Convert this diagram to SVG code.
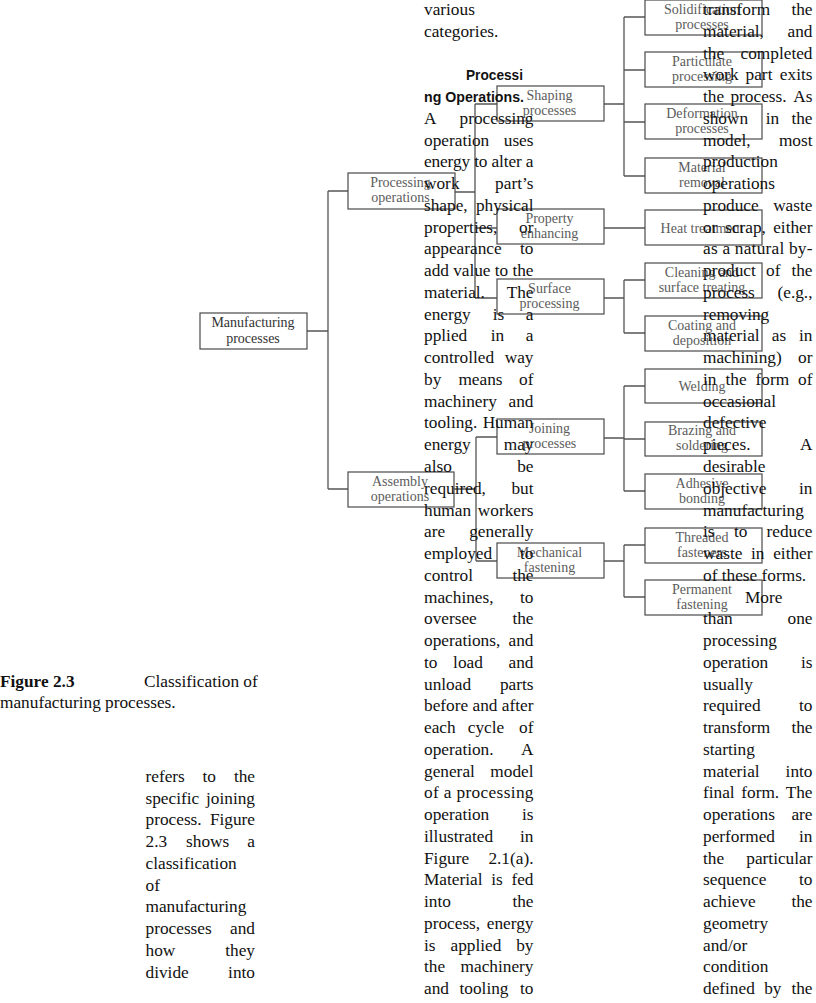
<svg xmlns="http://www.w3.org/2000/svg" width="816" height="1003" viewBox="0 0 816 1003">
<style>
.bg{fill:#fff}
.ln{fill:none;stroke:#555;stroke-width:1.3}
.box{fill:none;stroke:#4a4a4a;stroke-width:1.2}
.bt{font-family:"Liberation Serif",serif;font-size:14px;fill:#5c5c5c;text-anchor:middle}
.bt0{fill:#333}
.tx{font-family:"Liberation Serif",serif;font-size:17.3px;fill:#111}
.hd{font-family:"Liberation Sans",sans-serif;font-size:15px;font-weight:bold;fill:#111}
.e{text-anchor:end}
.m{text-anchor:middle}
</style>
<rect class="bg" x="0" y="0" width="816" height="1003"/>

<g id="connectors" class="ln">
<path d="M307,331H328M328,191V489M328,191H348M328,489H348"/>
<path d="M455,192H475M475,104V298M475,104H497M475,228H497M475,298H497"/>
<path d="M454,489H476M476,437V561M476,437H497M476,561H497"/>
<path d="M604,104H624M624,17V176M624,17H645M624,70H645M624,122H645M624,176H645"/>
<path d="M604,228H645"/>
<path d="M604,298H624M624,280V333M624,280H645M624,333H645"/>
<path d="M604,438H624M624,386V491M624,386H645M624,439H645M624,491H645"/>
<path d="M604,561H624M624,545V597M624,545H645M624,597H645"/>
</g>

<g id="n-manufacturing"><rect class="box" x="200" y="313" width="107" height="36"/><text class="bt bt0" x="253" y="327">Manufacturing</text><text class="bt bt0" x="253" y="342.5">processes</text></g>
<g id="n-processing"><rect class="box" x="348" y="173" width="107" height="36"/><text class="bt" x="400.5" y="187">Processing</text><text class="bt" x="400.5" y="202">operations</text></g>
<g id="n-assembly"><rect class="box" x="348" y="472" width="106" height="35"/><text class="bt" x="400" y="485.5">Assembly</text><text class="bt" x="400" y="500.5">operations</text></g>
<g id="n-shaping"><rect class="box" x="497" y="86" width="107" height="35"/><text class="bt" x="549.5" y="100">Shaping</text><text class="bt" x="549.5" y="115">processes</text></g>
<g id="n-property"><rect class="box" x="497" y="209" width="107" height="35"/><text class="bt" x="549.5" y="223">Property</text><text class="bt" x="549.5" y="238">enhancing</text></g>
<g id="n-surface"><rect class="box" x="497" y="279" width="107" height="35"/><text class="bt" x="549.5" y="293">Surface</text><text class="bt" x="549.5" y="308">processing</text></g>
<g id="n-joining"><rect class="box" x="497" y="419" width="107" height="35"/><text class="bt" x="549.5" y="433">Joining</text><text class="bt" x="549.5" y="448">processes</text></g>
<g id="n-mechanical"><rect class="box" x="497" y="543" width="107" height="35"/><text class="bt" x="549.5" y="557">Mechanical</text><text class="bt" x="549.5" y="572">fastening</text></g>
<g id="n-solidification"><rect class="box" x="645" y="0" width="117" height="35"/><text class="bt" x="702" y="13.5">Solidification</text><text class="bt" x="702" y="28.5">processes</text></g>
<g id="n-particulate"><rect class="box" x="645" y="52" width="117" height="35"/><text class="bt" x="702" y="65.5">Particulate</text><text class="bt" x="702" y="80.5">processing</text></g>
<g id="n-deformation"><rect class="box" x="645" y="104" width="117" height="35"/><text class="bt" x="702" y="117.5">Deformation</text><text class="bt" x="702" y="132.5">processes</text></g>
<g id="n-removal"><rect class="box" x="645" y="158" width="117" height="35"/><text class="bt" x="702" y="171.5">Material</text><text class="bt" x="702" y="186.5">removal</text></g>
<g id="n-heat"><rect class="box" x="645" y="210" width="117" height="35"/><text class="bt" x="702" y="232.5">Heat treatment</text></g>
<g id="n-cleaning"><rect class="box" x="645" y="263" width="117" height="35"/><text class="bt" x="702" y="276.5">Cleaning and</text><text class="bt" x="702" y="291.5">surface treating</text></g>
<g id="n-coating"><rect class="box" x="645" y="316" width="117" height="35"/><text class="bt" x="702" y="329.5">Coating and</text><text class="bt" x="702" y="344.5">deposition</text></g>
<g id="n-welding"><rect class="box" x="645" y="369" width="117" height="34"/><text class="bt" x="702" y="391">Welding</text></g>
<g id="n-brazing"><rect class="box" x="645" y="422" width="117" height="34"/><text class="bt" x="702" y="435">Brazing and</text><text class="bt" x="702" y="450">soldering</text></g>
<g id="n-adhesive"><rect class="box" x="645" y="474" width="117" height="35"/><text class="bt" x="702" y="487.5">Adhesive</text><text class="bt" x="702" y="502.5">bonding</text></g>
<g id="n-threaded"><rect class="box" x="645" y="528" width="117" height="35"/><text class="bt" x="702" y="541.5">Threaded</text><text class="bt" x="702" y="556.5">fasteners</text></g>
<g id="n-permanent"><rect class="box" x="645" y="580" width="117" height="35"/><text class="bt" x="702" y="593.5">Permanent</text><text class="bt" x="702" y="608.5">fastening</text></g>

<g id="caption" class="tx">
<text x="0" y="686.5" font-weight="bold">Figure 2.3</text>
<text x="144" y="686.5">Classification of</text>
<text x="0" y="708">manufacturing processes.</text>
</g>

<g id="col-left" class="tx">
<text y="781.7"><tspan x="145.5">refers</tspan><tspan x="209.3" class="m">to</tspan><tspan x="255" class="e">the</tspan></text>
<text y="803.5"><tspan x="145.5">specific</tspan><tspan x="255" class="e">joining</tspan></text>
<text y="825.2"><tspan x="145.5">process.</tspan><tspan x="255" class="e">Figure</tspan></text>
<text y="847"><tspan x="145.5">2.3</tspan><tspan x="207.7" class="m">shows</tspan><tspan x="255" class="e">a</tspan></text>
<text x="145.5" y="868.7">classification</text>
<text x="145.5" y="890.5">of</text>
<text x="145.5" y="912.3">manufacturing</text>
<text y="934"><tspan x="145.5">processes</tspan><tspan x="255" class="e">and</tspan></text>
<text y="955.8"><tspan x="145.5">how</tspan><tspan x="255" class="e">they</tspan></text>
<text y="977.5"><tspan x="145.5">divide</tspan><tspan x="255" class="e">into</tspan></text>
</g>

<g id="col-middle" class="tx">
<text x="424" y="15">various</text>
<text x="424" y="36.8">categories.</text>
<text class="hd" x="466" y="80.3" textLength="57" lengthAdjust="spacingAndGlyphs">Processi</text>
<text class="hd" x="424" y="102" textLength="100" lengthAdjust="spacingAndGlyphs">ng Operations.</text>
<text y="123.8"><tspan x="424">A</tspan><tspan x="533.5" class="e">processing</tspan></text>
<text y="145.6"><tspan x="424">operation</tspan><tspan x="533.5" class="e">uses</tspan></text>
<text x="424" y="167.3" textLength="109.5" lengthAdjust="spacing">energy to alter a</text>
<text y="189.1"><tspan x="424">work</tspan><tspan x="533.5" class="e">part’s</tspan></text>
<text y="210.8"><tspan x="424">shape,</tspan><tspan x="533.5" class="e">physical</tspan></text>
<text y="232.6"><tspan x="424">properties,</tspan><tspan x="533.5" class="e">or</tspan></text>
<text y="254.4"><tspan x="424">appearance</tspan><tspan x="533.5" class="e">to</tspan></text>
<text x="424" y="276.1" textLength="109.5" lengthAdjust="spacing">add value to the</text>
<text y="297.9"><tspan x="424">material.</tspan><tspan x="533.5" class="e">The</tspan></text>
<text y="319.6"><tspan x="424">energy</tspan><tspan x="498.5" class="m">is</tspan><tspan x="533.5" class="e">a</tspan></text>
<text y="341.4"><tspan x="424">pplied</tspan><tspan x="497.5" class="m">in</tspan><tspan x="533.5" class="e">a</tspan></text>
<text y="363.2"><tspan x="424">controlled</tspan><tspan x="533.5" class="e">way</tspan></text>
<text y="384.9"><tspan x="424">by</tspan><tspan x="480.5" class="m">means</tspan><tspan x="533.5" class="e">of</tspan></text>
<text y="406.7"><tspan x="424">machinery</tspan><tspan x="533.5" class="e">and</tspan></text>
<text y="428.4"><tspan x="424">tooling.</tspan><tspan x="533.5" class="e">Human</tspan></text>
<text y="450.2"><tspan x="424">energy</tspan><tspan x="533.5" class="e">may</tspan></text>
<text y="472"><tspan x="424">also</tspan><tspan x="533.5" class="e">be</tspan></text>
<text y="493.7"><tspan x="424">required,</tspan><tspan x="533.5" class="e">but</tspan></text>
<text y="515.5"><tspan x="424">human</tspan><tspan x="533.5" class="e">workers</tspan></text>
<text y="537.2"><tspan x="424">are</tspan><tspan x="533.5" class="e">generally</tspan></text>
<text y="559"><tspan x="424">employed</tspan><tspan x="533.5" class="e">to</tspan></text>
<text y="580.8"><tspan x="424">control</tspan><tspan x="533.5" class="e">the</tspan></text>
<text y="602.5"><tspan x="424">machines,</tspan><tspan x="533.5" class="e">to</tspan></text>
<text y="624.3"><tspan x="424">oversee</tspan><tspan x="533.5" class="e">the</tspan></text>
<text y="646"><tspan x="424">operations,</tspan><tspan x="533.5" class="e">and</tspan></text>
<text y="667.8"><tspan x="424">to</tspan><tspan x="468" class="m">load</tspan><tspan x="533.5" class="e">and</tspan></text>
<text y="689.6"><tspan x="424">unload</tspan><tspan x="533.5" class="e">parts</tspan></text>
<text x="424" y="711.3" textLength="109.5" lengthAdjust="spacing">before and after</text>
<text y="733.1"><tspan x="424">each</tspan><tspan x="486" class="m">cycle</tspan><tspan x="533.5" class="e">of</tspan></text>
<text y="754.8"><tspan x="424">operation.</tspan><tspan x="533.5" class="e">A</tspan></text>
<text y="776.6"><tspan x="424">general</tspan><tspan x="533.5" class="e">model</tspan></text>
<text x="424" y="798.4" textLength="109.5" lengthAdjust="spacing">of a processing</text>
<text y="820.1"><tspan x="424">operation</tspan><tspan x="533.5" class="e">is</tspan></text>
<text y="841.9"><tspan x="424">illustrated</tspan><tspan x="533.5" class="e">in</tspan></text>
<text y="863.6"><tspan x="424">Figure</tspan><tspan x="533.5" class="e">2.1(a).</tspan></text>
<text y="885.4"><tspan x="424">Material</tspan><tspan x="497" class="m">is</tspan><tspan x="533.5" class="e">fed</tspan></text>
<text y="907.2"><tspan x="424">into</tspan><tspan x="533.5" class="e">the</tspan></text>
<text y="928.9"><tspan x="424">process,</tspan><tspan x="533.5" class="e">energy</tspan></text>
<text y="950.7"><tspan x="424">is</tspan><tspan x="476" class="m">applied</tspan><tspan x="533.5" class="e">by</tspan></text>
<text y="972.4"><tspan x="424">the</tspan><tspan x="533.5" class="e">machinery</tspan></text>
<text y="994.2"><tspan x="424">and</tspan><tspan x="484" class="m">tooling</tspan><tspan x="533.5" class="e">to</tspan></text>
</g>

<g id="col-right" class="tx">
<text y="15"><tspan x="703">transform</tspan><tspan x="812.5" class="e">the</tspan></text>
<text y="36.8"><tspan x="703">material,</tspan><tspan x="812.5" class="e">and</tspan></text>
<text y="58.5"><tspan x="703">the</tspan><tspan x="812.5" class="e">completed</tspan></text>
<text y="80.3"><tspan x="703">work</tspan><tspan x="759" class="m">part</tspan><tspan x="812.5" class="e">exits</tspan></text>
<text y="102"><tspan x="703">the</tspan><tspan x="758.5" class="m">process.</tspan><tspan x="812.5" class="e">As</tspan></text>
<text y="123.8"><tspan x="703">shown</tspan><tspan x="772.5" class="m">in</tspan><tspan x="812.5" class="e">the</tspan></text>
<text y="145.6"><tspan x="703">model,</tspan><tspan x="812.5" class="e">most</tspan></text>
<text x="703" y="167.3">production</text>
<text x="703" y="189.1">operations</text>
<text y="210.8"><tspan x="703">produce</tspan><tspan x="812.5" class="e">waste</tspan></text>
<text y="232.6"><tspan x="703">or</tspan><tspan x="745.5" class="m">scrap,</tspan><tspan x="812.5" class="e">either</tspan></text>
<text x="703" y="254.4" textLength="109.5" lengthAdjust="spacing">as a natural by-</text>
<text y="276.1"><tspan x="703">product</tspan><tspan x="773.3" class="m">of</tspan><tspan x="812.5" class="e">the</tspan></text>
<text y="297.9"><tspan x="703">process</tspan><tspan x="812.5" class="e">(e.g.,</tspan></text>
<text x="703" y="319.6">removing</text>
<text y="341.4"><tspan x="703">material</tspan><tspan x="779" class="m">as</tspan><tspan x="812.5" class="e">in</tspan></text>
<text y="363.2"><tspan x="703">machining)</tspan><tspan x="812.5" class="e">or</tspan></text>
<text y="384.9"><tspan x="703">in</tspan><tspan x="736" class="m">the</tspan><tspan x="772.4" class="m">form</tspan><tspan x="812.5" class="e">of</tspan></text>
<text x="703" y="406.7">occasional</text>
<text x="703" y="428.4">defective</text>
<text y="450.2"><tspan x="703">pieces.</tspan><tspan x="812.5" class="e">A</tspan></text>
<text x="703" y="472">desirable</text>
<text y="493.7"><tspan x="703">objective</tspan><tspan x="812.5" class="e">in</tspan></text>
<text x="703" y="515.5">manufacturing</text>
<text y="537.2"><tspan x="703">is</tspan><tspan x="740.8" class="m">to</tspan><tspan x="812.5" class="e">reduce</tspan></text>
<text y="559"><tspan x="703">waste</tspan><tspan x="757.8" class="m">in</tspan><tspan x="812.5" class="e">either</tspan></text>
<text x="703" y="580.8">of these forms.</text>
<text x="745" y="602.5">More</text>
<text y="624.3"><tspan x="703">than</tspan><tspan x="812.5" class="e">one</tspan></text>
<text x="703" y="646">processing</text>
<text y="667.8"><tspan x="703">operation</tspan><tspan x="812.5" class="e">is</tspan></text>
<text x="703" y="689.6">usually</text>
<text y="711.3"><tspan x="703">required</tspan><tspan x="812.5" class="e">to</tspan></text>
<text y="733.1"><tspan x="703">transform</tspan><tspan x="812.5" class="e">the</tspan></text>
<text x="703" y="754.8">starting</text>
<text y="776.6"><tspan x="703">material</tspan><tspan x="812.5" class="e">into</tspan></text>
<text y="798.4"><tspan x="703">final</tspan><tspan x="760.2" class="m">form.</tspan><tspan x="812.5" class="e">The</tspan></text>
<text y="820.1"><tspan x="703">operations</tspan><tspan x="812.5" class="e">are</tspan></text>
<text y="841.9"><tspan x="703">performed</tspan><tspan x="812.5" class="e">in</tspan></text>
<text y="863.6"><tspan x="703">the</tspan><tspan x="812.5" class="e">particular</tspan></text>
<text y="885.4"><tspan x="703">sequence</tspan><tspan x="812.5" class="e">to</tspan></text>
<text y="907.2"><tspan x="703">achieve</tspan><tspan x="812.5" class="e">the</tspan></text>
<text x="703" y="928.9">geometry</text>
<text x="703" y="950.7">and/or</text>
<text x="703" y="972.4">condition</text>
<text y="994.2"><tspan x="703">defined</tspan><tspan x="772.8" class="m">by</tspan><tspan x="812.5" class="e">the</tspan></text>
</g>
</svg>
